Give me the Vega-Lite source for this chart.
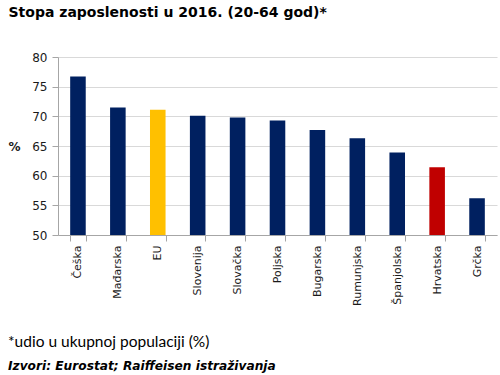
{
  "$schema": "https://vega.github.io/schema/vega-lite/v6.json",
  "width": 439,
  "height": 178,
  "autosize": {"type": "none"},
  "padding": {"left": 58, "top": 57, "right": 3, "bottom": 140},
  "background": "white",
  "title": {
    "text": "*udio u ukupnoj populaciji (%)",
    "subtitle": "Izvori: Eurostat; Raiffeisen istraživanja",
    "orient": "bottom",
    "anchor": "start",
    "frame": "group",
    "dx": -50,
    "offset": 30,
    "font": "Lato",
    "fontSize": 15.5,
    "fontWeight": "normal",
    "color": "#000000",
    "subtitleFont": "DejaVu Sans",
    "subtitleFontSize": 12.2,
    "subtitleFontWeight": "bold",
    "subtitleFontStyle": "italic",
    "subtitleColor": "#000000",
    "subtitlePadding": 9
  },
  "data": {
    "values": [
      {"country": "Češka", "value": 76.7},
      {"country": "Mađarska", "value": 71.5},
      {"country": "EU", "value": 71.1},
      {"country": "Slovenija", "value": 70.1},
      {"country": "Slovačka", "value": 69.8},
      {"country": "Poljska", "value": 69.3},
      {"country": "Bugarska", "value": 67.7},
      {"country": "Rumunjska", "value": 66.3},
      {"country": "Španjolska", "value": 63.9},
      {"country": "Hrvatska", "value": 61.4},
      {"country": "Grčka", "value": 56.2}
    ]
  },
  "mark": {"type": "bar", "clip": true},
  "encoding": {
    "x": {
      "field": "country",
      "type": "nominal",
      "sort": null,
      "scale": {"paddingInner": 0.61, "paddingOuter": 0.305},
      "axis": {
        "title": "Stopa zaposlenosti u 2016. (20-64 god)*",
        "titleX": -50,
        "titleY": -223,
        "titleAlign": "left",
        "titleAnchor": null,
        "titleBaseline": "middle",
        "titleFont": "DejaVu Sans",
        "titleFontSize": 14,
        "titleFontWeight": "bold",
        "titleColor": "#000000",
        "labelAngle": -90,
        "labelFont": "DejaVu Sans",
        "labelFontSize": 11,
        "labelColor": "#1a1a1a",
        "labelPadding": 4,
        "tickBand": "extent",
        "tickSize": 6,
        "tickColor": "#a6a6a6",
        "domainColor": "#a6a6a6",
        "grid": false
      }
    },
    "y": {
      "field": "value",
      "type": "quantitative",
      "scale": {"domain": [50, 80], "zero": false},
      "axis": {
        "values": [50, 55, 60, 65, 70, 75, 80],
        "title": "%",
        "titleAngle": 0,
        "titleX": -44,
        "titleY": 89,
        "titleAlign": "center",
        "titleBaseline": "middle",
        "titleFont": "DejaVu Sans",
        "titleFontSize": 12,
        "titleFontWeight": "bold",
        "titleColor": "#1a1a1a",
        "labelFont": "DejaVu Sans",
        "labelFontSize": 12,
        "labelColor": "#1a1a1a",
        "labelPadding": 5,
        "tickSize": 6,
        "tickColor": "#a6a6a6",
        "domainColor": "#a6a6a6",
        "gridColor": "#d9d9d9",
        "gridWidth": 1
      }
    },
    "color": {
      "field": "country",
      "type": "nominal",
      "scale": {
        "domain": ["Češka", "Mađarska", "EU", "Slovenija", "Slovačka", "Poljska", "Bugarska", "Rumunjska", "Španjolska", "Hrvatska", "Grčka"],
        "range": ["#002060", "#002060", "#FFC000", "#002060", "#002060", "#002060", "#002060", "#002060", "#002060", "#C00000", "#002060"]
      },
      "legend": null
    }
  },
  "config": {"view": {"stroke": null}}
}
